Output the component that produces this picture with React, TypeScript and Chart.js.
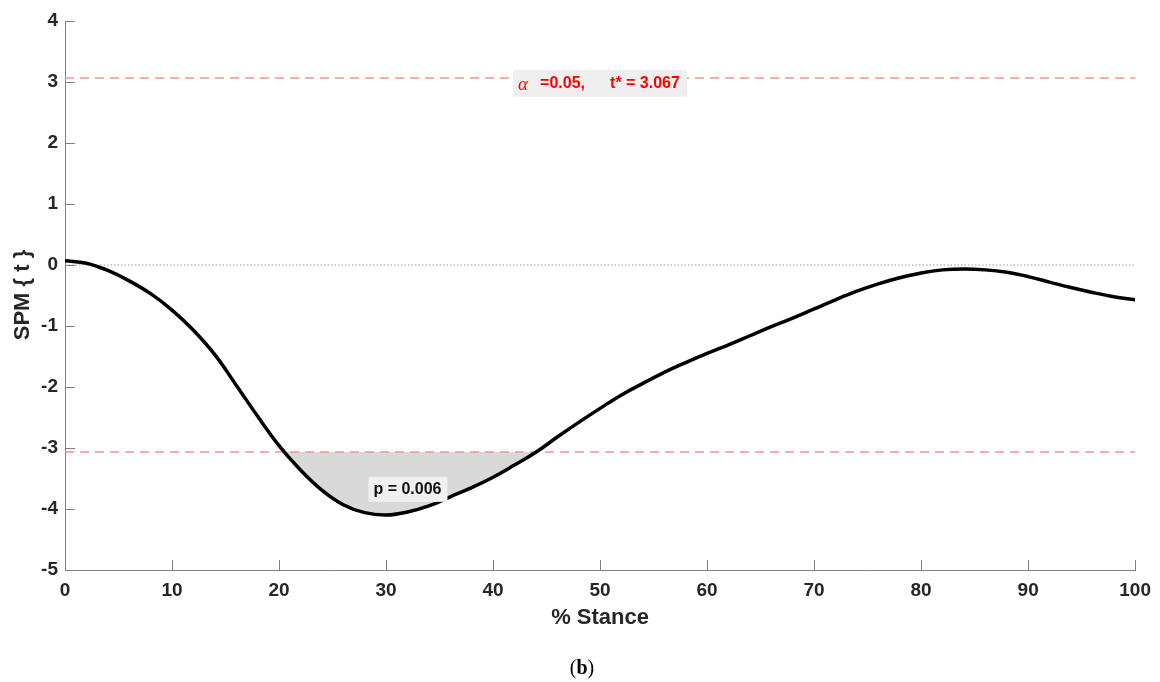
import React, { useEffect, useRef } from "react";
import { Chart, registerables } from "chart.js";

Chart.register(...registerables);

// % stance sample positions and SPM{t} values
const stance = [0, 2, 4, 6, 8, 10, 12, 14, 16, 18, 20, 22, 24, 26, 28, 30, 32, 34, 36, 38, 40, 42, 44, 46, 48, 50, 52, 54, 56, 58, 60, 62, 64, 66, 68, 70, 72, 74, 76, 78, 80, 82, 84, 86, 88, 90, 92, 94, 96, 98, 100];
const spmT = [0.07, 0.03, -0.09, -0.26, -0.47, -0.74, -1.07, -1.47, -1.97, -2.48, -2.96, -3.36, -3.69, -3.93, -4.06, -4.1, -4.05, -3.95, -3.8, -3.65, -3.48, -3.28, -3.07, -2.82, -2.58, -2.35, -2.13, -1.94, -1.76, -1.6, -1.45, -1.31, -1.16, -1.01, -0.87, -0.72, -0.57, -0.43, -0.31, -0.21, -0.13, -0.08, -0.065, -0.08, -0.12, -0.19, -0.28, -0.37, -0.45, -0.52, -0.57];

const tCritical = 3.067;
const alpha = 0.05;
const pValue = "0.006";
const clusterStart = 20.4;
const clusterEnd = 44.1;

const xTicks = [0, 10, 20, 30, 40, 50, 60, 70, 80, 90, 100];
const yTicks = [4, 3, 2, 1, 0, -1, -2, -3, -4, -5];

const xTitle = "% Stance";
const yTitle = "SPM { t }";
const caption = "b";

// label anchor positions (data units)
const critLabelPos = { x: 50, y: 2.97 };
const pLabelPos = { x: 32, y: -3.67 };

const curvePts = stance.map((x, i) => ({ x, y: spmT[i] }));
const clusterPts = [
  { x: clusterStart, y: -tCritical },
  ...curvePts.filter((p) => p.x > clusterStart && p.x < clusterEnd),
  { x: clusterEnd, y: -tCritical },
];

const FONT = "'Liberation Sans', Arial, sans-serif";

const overlayPlugin = {
  id: "overlay",
  afterDatasetsDraw(chart: any) {
    const ctx = chart.ctx as CanvasRenderingContext2D;
    const xs = chart.scales.x;
    const ys = chart.scales.y;
    const area = chart.chartArea;
    ctx.save();
    // inward ticks
    ctx.strokeStyle = "#808080";
    ctx.lineWidth = 1;
    xTicks.forEach((v) => {
      const px = Math.round(xs.getPixelForValue(v)) + 0.5;
      ctx.beginPath();
      ctx.moveTo(px, area.bottom);
      ctx.lineTo(px, area.bottom - 10);
      ctx.stroke();
    });
    yTicks.forEach((v) => {
      const py = Math.round(ys.getPixelForValue(v)) + 0.5;
      ctx.beginPath();
      ctx.moveTo(area.left, py);
      ctx.lineTo(area.left + 10, py);
      ctx.stroke();
    });

    // critical threshold label
    const cx = xs.getPixelForValue(critLabelPos.x);
    const cy = ys.getPixelForValue(critLabelPos.y);
    ctx.fillStyle = "#efefef";
    ctx.fillRect(cx - 87, cy - 14, 174, 27);
    ctx.textBaseline = "middle";
    ctx.textAlign = "left";
    ctx.fillStyle = "#ff0000";
    ctx.font = "italic 19px 'Liberation Serif', 'DejaVu Serif', serif";
    ctx.fillText("\u03B1", cx - 82, cy + 1);
    ctx.font = `bold 16px ${FONT}`;
    ctx.fillText(`=${alpha.toFixed(2)},`, cx - 60, cy);
    ctx.fillText(`t* = ${tCritical.toFixed(3)}`, cx + 10, cy);

    // p value label
    const px = xs.getPixelForValue(pLabelPos.x);
    const py = ys.getPixelForValue(pLabelPos.y);
    ctx.fillStyle = "#f0f0f0";
    ctx.fillRect(px - 39, py - 12, 79, 25);
    ctx.fillStyle = "#111111";
    ctx.textAlign = "center";
    ctx.font = `bold 16px ${FONT}`;
    ctx.fillText(`p = ${pValue}`, px, py + 1);

    // axis titles
    ctx.fillStyle = "#262626";
    ctx.font = `bold 22px ${FONT}`;
    ctx.textAlign = "center";
    ctx.fillText(xTitle, (area.left + area.right) / 2, 618);
    ctx.save();
    ctx.translate(23, 295);
    ctx.rotate(-Math.PI / 2);
    ctx.fillText(yTitle, 0, 0);
    ctx.restore();

    // caption (b)
    ctx.fillStyle = "#000000";
    ctx.textAlign = "left";
    const capY = 669;
    ctx.font = "20px 'Liberation Serif', serif";
    const wOpen = ctx.measureText("(").width;
    const wClose = ctx.measureText(")").width;
    ctx.font = "bold 20px 'Liberation Serif', serif";
    const wB = ctx.measureText(caption).width;
    const total = wOpen + wB + wClose;
    let sx = 582 - total / 2;
    ctx.font = "20px 'Liberation Serif', serif";
    ctx.fillText("(", sx, capY);
    sx += wOpen;
    ctx.font = "bold 20px 'Liberation Serif', serif";
    ctx.fillText(caption, sx, capY);
    sx += wB;
    ctx.font = "20px 'Liberation Serif', serif";
    ctx.fillText(")", sx, capY);
    ctx.restore();
  },
};

export default function App() {
  const ref = useRef<HTMLCanvasElement | null>(null);
  useEffect(() => {
    if (!ref.current) return;
    const chart = new Chart(ref.current, {
      type: "line",
      data: {
        datasets: [
          {
            label: "SPM{t}",
            data: curvePts,
            borderColor: "#000000",
            borderWidth: 3.5,
            pointRadius: 0,
            tension: 0.4,
            fill: false,
            order: 0,
          },
          {
            label: "cluster",
            data: clusterPts,
            borderWidth: 0,
            borderColor: "rgba(0,0,0,0)",
            backgroundColor: "#d9d9d9",
            pointRadius: 0,
            tension: 0.4,
            fill: { value: -tCritical },
            order: 3,
          },
          {
            label: "upper",
            data: [{ x: 0, y: tCritical }, { x: 100, y: tCritical }],
            borderColor: "#f29494",
            borderWidth: 1.5,
            borderDash: [9, 6],
            pointRadius: 0,
            fill: false,
            order: 2,
          },
          {
            label: "lower",
            data: [{ x: 0, y: -tCritical }, { x: 100, y: -tCritical }],
            borderColor: "#f29494",
            borderWidth: 1.5,
            borderDash: [9, 6],
            pointRadius: 0,
            fill: false,
            order: 2,
          },
          {
            label: "zero",
            data: [{ x: 0, y: 0 }, { x: 100, y: 0 }],
            borderColor: "#9a9a9a",
            borderWidth: 1,
            borderDash: [1.5, 2],
            pointRadius: 0,
            fill: false,
            order: 2,
          },
        ],
      },
      options: {
        responsive: false,
        animation: false,
        devicePixelRatio: 1,
        layout: { padding: { left: 0, right: 24, top: 21, bottom: 0 } },
        plugins: { legend: { display: false }, tooltip: { enabled: false } },
        scales: {
          x: {
            type: "linear",
            min: 0,
            max: 100,
            afterFit: (s: any) => {
              s.height = 112;
            },
            afterBuildTicks: (s: any) => {
              s.ticks = xTicks.map((v) => ({ value: v }));
            },
            grid: { display: false, drawTicks: false },
            border: { display: true, color: "#808080", width: 1 },
            ticks: {
              padding: 9,
              color: "#262626",
              font: { family: FONT, size: 19, weight: "bold" },
              maxRotation: 0,
            },
          },
          y: {
            type: "linear",
            min: -5,
            max: 4,
            afterFit: (s: any) => {
              s.width = 65;
            },
            afterBuildTicks: (s: any) => {
              s.ticks = yTicks.map((v) => ({ value: v }));
            },
            grid: { display: false, drawTicks: false },
            border: { display: true, color: "#808080", width: 1 },
            ticks: {
              padding: 7,
              color: "#262626",
              font: { family: FONT, size: 19, weight: "bold" },
            },
          },
        },
      },
      plugins: [overlayPlugin],
    } as any);
    return () => chart.destroy();
  }, []);
  return (
    <div style={{ position: "absolute", left: 0, top: 0, width: 1160, height: 682, background: "#fff" }}>
      <canvas ref={ref} width={1160} height={682} style={{ display: "block" }} />
    </div>
  );
}
